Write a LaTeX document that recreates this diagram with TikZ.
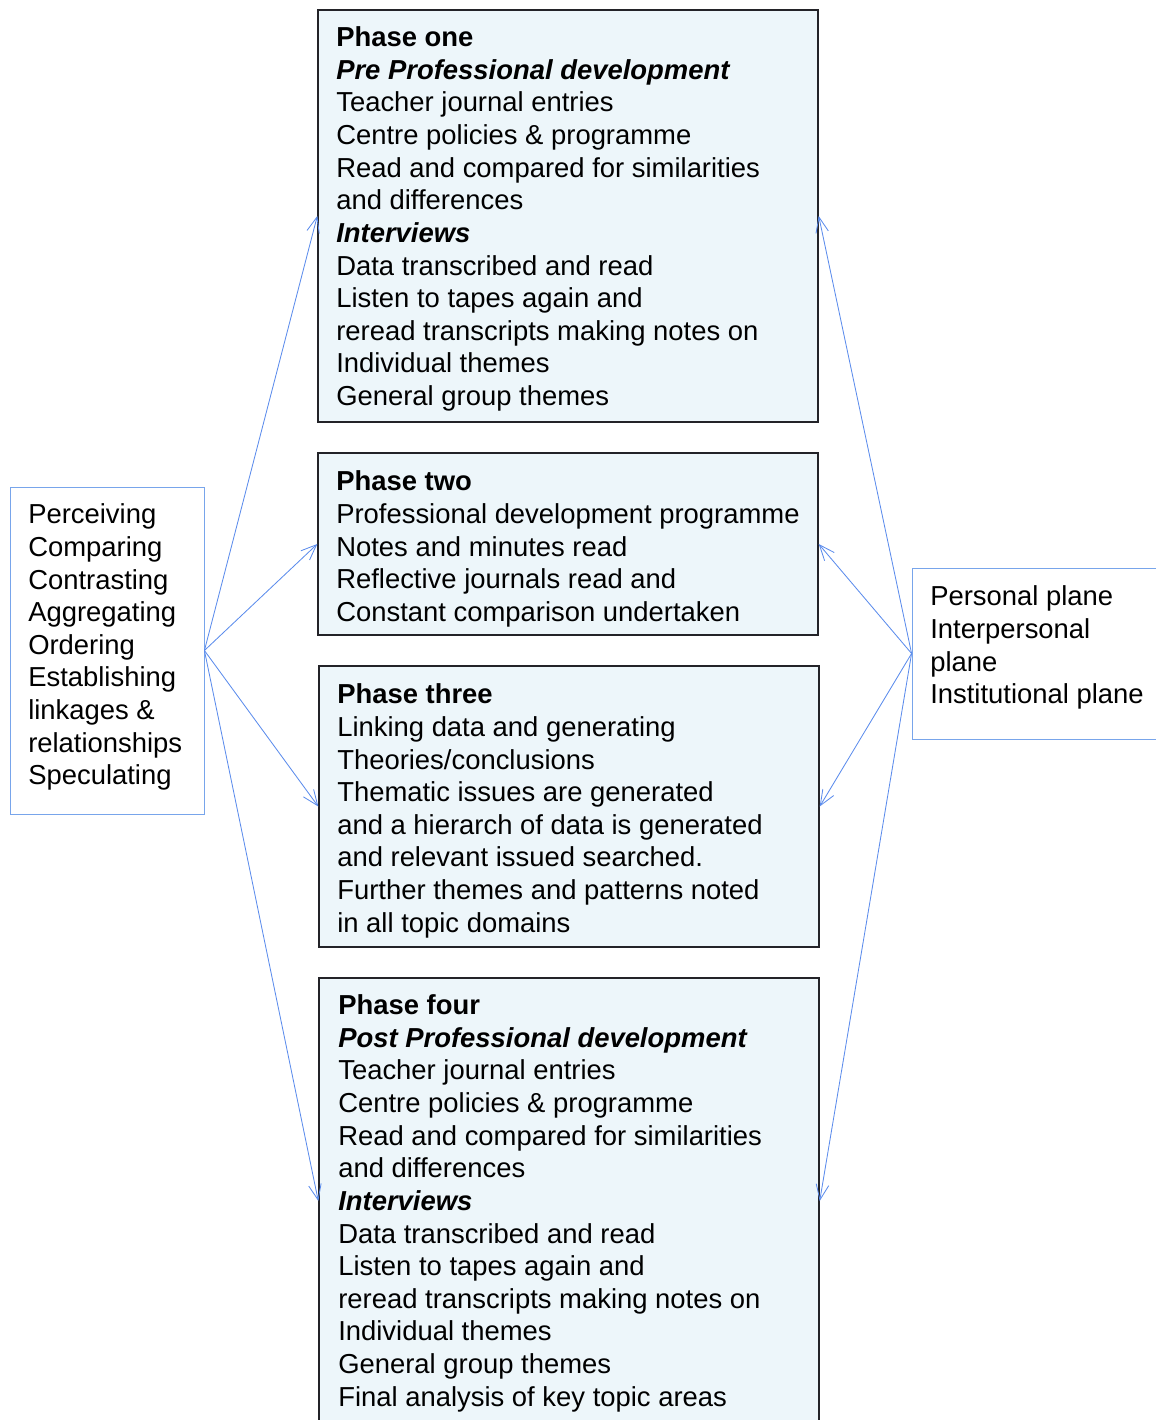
\documentclass[tikz,border=0pt]{standalone}
\usepackage{fontspec}
\setmainfont{Liberation Sans}
\usetikzlibrary{arrows.meta}

\newcommand{\px}{0.025cm}
\definecolor{phasefill}{RGB}{237,246,250}
\definecolor{phaseline}{RGB}{35,35,40}
\definecolor{linkblue}{RGB}{92,140,236}
\definecolor{sidebox}{RGB}{120,165,235}

\tikzset{
  phasebox/.style={draw=phaseline, fill=phasefill, line width=1pt, rectangle, inner sep=0pt},
  sidebox/.style={draw=sidebox, fill=white, line width=0.6pt, rectangle, inner sep=0pt},
  % anchored at the baseline of the last line
  boxtext/.style={anchor=base west, align=left, inner sep=0pt,
    font=\fontsize{19.5}{23.2}\selectfont},
  link/.style={draw=linkblue, line width=0.6pt,
    -{Straight Barb[length=11pt,width=9pt,line width=0.6pt]}},
}

\begin{document}
\begin{tikzpicture}[x=\px, y=-\px]
\useasboundingbox (0,0) rectangle (1156,1420);

% boxes
\node[phasebox, minimum width=500*\px, minimum height=412*\px] (p1) at (568,216) {};
\node[phasebox, minimum width=500*\px, minimum height=182*\px] (p2) at (568,544) {};
\node[phasebox, minimum width=500*\px, minimum height=281*\px] (p3) at (569,806.5) {};
\node[phasebox, minimum width=500*\px, minimum height=446*\px] (p4) at (569,1201) {};
\node[sidebox, minimum width=194*\px, minimum height=327*\px] (proc) at (107,650.5) {};
\node[sidebox, minimum width=248*\px, minimum height=171*\px] (planes) at (1036,653.5) {};

% texts
\node[boxtext] (t1) at (336,405.6) {\textbf{Phase one}\\
  \textbf{\textit{Pre Professional development}}\\
  Teacher journal entries\\
  Centre policies \& programme\\
  Read and compared for similarities\\
  and differences\\
  \textbf{\textit{Interviews}}\\
  Data transcribed and read\\
  Listen to tapes again and\\
  reread transcripts making notes on\\
  Individual themes\\
  General group themes};
\node[boxtext] (t2) at (336,621.4) {\textbf{Phase two}\\
  Professional development programme\\
  Notes and minutes read\\
  Reflective journals read and\\
  Constant comparison undertaken};
\node[boxtext] (t3) at (337,932.2) {\textbf{Phase three}\\
  Linking data and generating\\
  Theories/conclusions\\
  Thematic issues are generated\\
  and a hierarch of data is generated\\
  and relevant issued searched.\\
  Further themes and patterns noted\\
  in all topic domains};
\node[boxtext] (t4) at (338,1406.2) {\textbf{Phase four}\\
  \textbf{\textit{Post Professional development}}\\
  Teacher journal entries\\
  Centre policies \& programme\\
  Read and compared for similarities\\
  and differences\\
  \textbf{\textit{Interviews}}\\
  Data transcribed and read\\
  Listen to tapes again and\\
  reread transcripts making notes on\\
  Individual themes\\
  General group themes\\
  Final analysis of key topic areas};
\node[boxtext] (tproc) at (28,784.8) {Perceiving\\
  Comparing\\
  Contrasting\\
  Aggregating\\
  Ordering\\
  Establishing\\
  linkages \&\\
  relationships\\
  Speculating};
\node[boxtext] (tplanes) at (930,703.8) {Personal plane\\
  Interpersonal\\
  plane\\
  Institutional plane};

% connectors
\foreach \p in {p1,p2,p3,p4} {
  \draw[link] (proc.east) -- (\p.west);
  \draw[link] (planes.west) -- (\p.east);
}
\end{tikzpicture}
\end{document}
